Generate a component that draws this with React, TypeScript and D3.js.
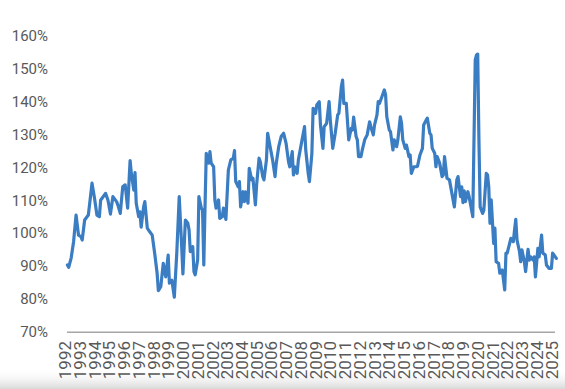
import React, { useRef, useEffect } from 'react';
import * as d3 from 'd3';

// y-axis ticks (percent)
const yTicks = [70, 80, 90, 100, 110, 120, 130, 140, 150, 160];

// year labels on the x axis
const years = d3.range(1992, 2026).map(String);

// months since Jan 1992 for each reading
const months = [
  2, 3, 5, 7, 9, 11, 13, 14, 16, 19, 22, 24, 26, 28, 29, 33, 35, 37, 39, 42, 43, 45, 47, 49,
  51, 53, 54, 56, 57, 58, 60, 61, 62, 64, 65, 67, 69, 71, 73, 75, 76, 78, 80, 82, 84, 85,
  87, 89, 91, 93, 95, 96, 98, 100, 101, 102, 104, 105, 106, 108, 109, 111, 112, 113, 114, 115,
  117, 118, 119, 121, 122, 123, 125, 126, 128, 129, 131, 133, 135, 137, 138, 139, 141, 142, 143,
  145, 146, 147, 149, 150, 152, 153, 155, 156, 158, 159, 161, 162, 164, 165, 167, 169, 171, 172,
  174, 176, 178, 180, 182, 183, 185, 186, 187, 189, 190, 193, 195, 196, 198, 199, 201, 202, 204,
  205, 207, 208, 210, 211, 213, 215, 216, 218, 220, 222, 223, 225, 226, 227, 229, 231, 233, 234,
  235, 237, 238, 239, 241, 242, 244, 246, 248, 249, 251, 252, 254, 255, 256, 258, 260, 261, 262,
  264, 265, 267, 268, 270, 271, 273, 274, 275, 277, 278, 280, 281, 282, 284, 286, 287, 289, 291,
  292, 294, 295, 297, 298, 299, 301, 302, 303, 305, 307, 308, 309, 311, 313, 315, 317, 319, 320,
  322, 323, 324, 325, 326, 328, 329, 330, 332, 334, 335, 336, 337, 338, 340, 341, 343, 344, 345,
  346, 347, 349, 350, 351, 353, 354, 356, 357, 358, 359, 360, 362, 363, 365, 366, 367, 368, 370,
  371, 372, 374, 375, 377, 378, 379, 381, 382, 383, 385, 386, 388, 389, 391, 392, 394, 396, 397,
  398, 400,
];

// ratio in percent, one per month above
const values = [
  90.3, 89.6, 92.4, 97.4, 105.5, 99.4, 98.9, 97.9, 104, 105.5, 115.2, 110.7, 105.5, 105, 110, 112.1,
  110, 105.8, 111.1, 109.6, 108.6, 106, 114.1, 114.7,
  107.6, 122.1, 118.2, 113.1, 118.4, 109.1, 105, 106.5, 101.8, 108, 109.6, 101.5, 100.4, 99.4, 93.9,
  87.8, 82.5, 83.7, 90.8, 86.7, 93.3, 84.8,
  85.7, 80.5, 93.9, 111.1, 95.9, 87.6, 104, 103, 101, 94.4, 95.9, 88.3, 87.3, 91.8, 111.1, 107.6,
  107, 90.3, 108, 124.3,
  121.3, 124.8, 121.3, 120.2, 110.1, 107.6, 110.1, 104.5, 105, 107.6, 104.2, 119.2, 122.3, 122.8,
  125.1, 115.7, 114.1, 115.7, 108,
  112.6, 109.6, 112.6, 109.1, 119.7, 116.2, 116.7, 108.6, 114.7, 122.8, 121.7, 117.2, 116.2, 122.3,
  130.4, 126.3, 122.3, 117.2, 121.3,
  126.3, 129.4, 130.4, 127.3, 121.7, 120.2, 124.8, 117.7, 120.2, 118.2, 122.3, 128.4, 132.4, 125.3,
  118.2, 115.7, 124.3, 138, 136.5,
  139, 140, 132.9, 125.8, 132.4, 133.4, 140, 134.4, 125.8, 130.4, 136, 136.5, 144.6, 146.6, 139.5,
  139.5, 128.4, 131.9, 131.4,
  135.3, 129.4, 128.4, 123.3, 123.3, 125.3, 128.4, 129.9, 133.9, 132.4, 129.9, 132.9, 136, 140,
  139.5, 141.5, 143.6, 142.1, 135.4,
  131.4, 130.9, 125.3, 128.4, 126.3, 128.4, 135.4, 133.4, 128.4, 125.8, 126.8, 123.3, 123.8, 118.2,
  120.2, 120.2, 120.4, 123.8, 125.8,
  132.9, 134.4, 135, 130.4, 129.9, 125.8, 124.3, 120.2, 123.3, 121.3, 117.2, 117.7, 123.3, 116.7,
  116.2, 112.1, 108, 116.2, 117.2,
  111.1, 114.1, 109.3, 112.9, 109.6, 112.6, 111.1, 109.1, 105, 152.7, 154.2, 154.5, 128.4, 108,
  106, 107, 118.2, 117.7, 114.1,
  103, 110.1, 96.9, 101.5, 91.3, 90.8, 87.8, 88.8, 85.7, 82.7, 93.9, 93.9, 96.9, 98.4, 97.4, 101,
  104.2, 97.9, 94.4,
  91.3, 94.9, 91.3, 88.3, 95.1, 91.8, 92.8, 91.8, 92.8, 86.7, 95.4, 92.8, 99.4, 93.9, 93.4, 90.3,
  89.3, 89.3, 93.9,
  93.4, 92.3,
];

const W = 565;
const H = 389;

const App = () => {
  const ref = useRef<SVGSVGElement | null>(null);

  useEffect(() => {
    const svg = d3.select(ref.current);
    svg.selectAll('*').remove();

    const x = d3.scaleLinear().domain([0, 396]).range([65, 551.4]);
    const y = d3.scaleLinear().domain([70, 160]).range([331.7, 36]);

    // soft grey shade along the bottom edge
    const grad = svg.append('defs').append('linearGradient')
      .attr('id', 'shade').attr('x1', 0).attr('y1', 0).attr('x2', 0).attr('y2', 1);
    grad.append('stop').attr('offset', '0%').attr('stop-color', '#ffffff').attr('stop-opacity', 0);
    grad.append('stop').attr('offset', '100%').attr('stop-color', '#d9d9d9').attr('stop-opacity', 1);
    svg.append('rect')
      .attr('x', 0).attr('y', 368).attr('width', W).attr('height', H - 368)
      .attr('fill', 'url(#shade)');

    // y labels
    svg.append('g')
      .selectAll('text')
      .data(yTicks)
      .join('text')
      .attr('x', 48)
      .attr('y', d => y(d))
      .attr('dy', '0.35em')
      .attr('text-anchor', 'end')
      .attr('font-family', 'Roboto, sans-serif')
      .attr('font-size', 15)
      .attr('fill', '#595959')
      .text(d => d + '%');

    // baseline
    svg.append('line')
      .attr('x1', 67).attr('x2', 555)
      .attr('y1', y(70) + 0.5).attr('y2', y(70) + 0.5)
      .attr('stroke', '#a6a6a6')
      .attr('stroke-width', 1.5);

    // year labels
    svg.append('g')
      .selectAll('text')
      .data(years)
      .join('text')
      .attr('transform', (d, i) => `translate(${x(i * 12)},341) rotate(-90)`)
      .attr('dy', '0.36em')
      .attr('text-anchor', 'end')
      .attr('font-family', 'Roboto, sans-serif')
      .attr('font-size', 17)
      .attr('fill', '#595959')
      .text(d => d);

    const data = months.map((m, i) => ({ m, v: values[i] }));

    svg.append('path')
      .datum(data)
      .attr('fill', 'none')
      .attr('stroke', '#3b7dc3')
      .attr('stroke-width', 3.2)
      .attr('stroke-linejoin', 'round')
      .attr('stroke-linecap', 'round')
      .attr('d', d3.line<{ m: number; v: number }>()
        .x(d => x(d.m))
        .y(d => y(d.v)));
  }, []);

  return (
    <svg
      ref={ref}
      width={W}
      height={H}
      style={{ position: 'absolute', left: 0, top: 0, background: '#ffffff' }}
    />
  );
};

export default App;
